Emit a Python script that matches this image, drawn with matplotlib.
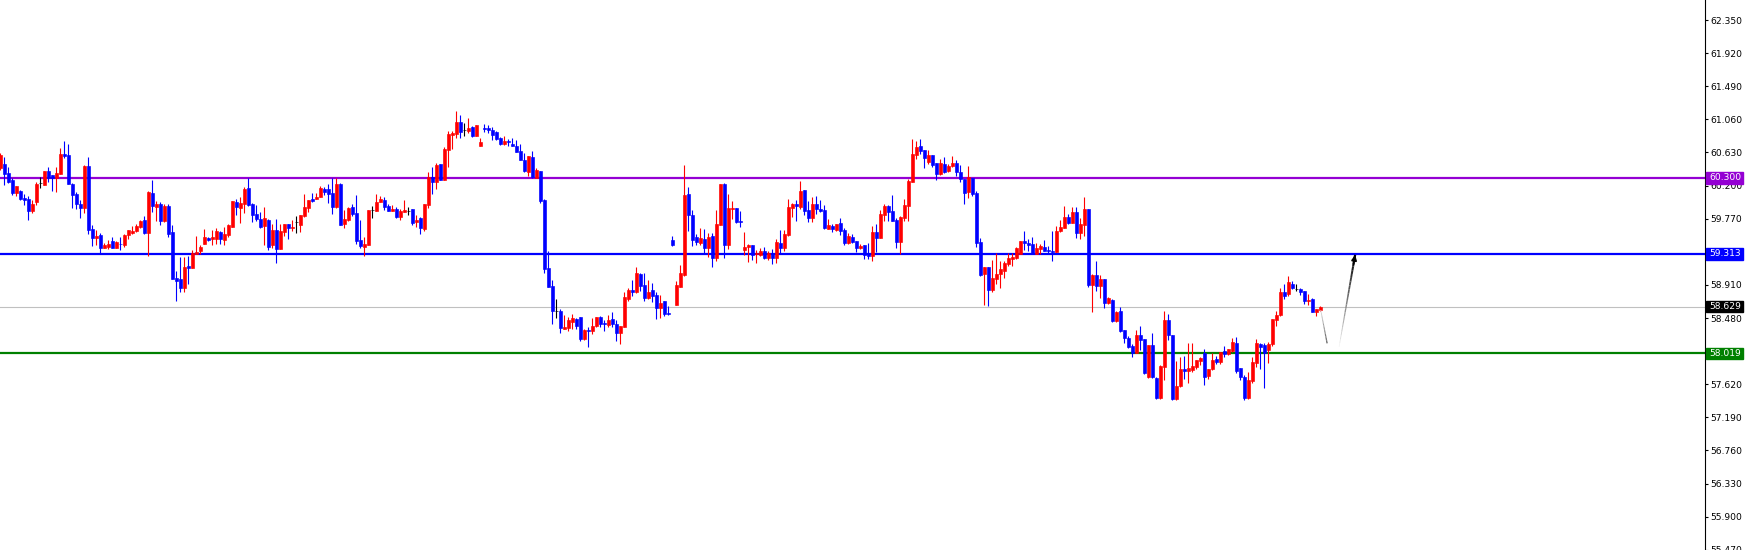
import numpy as np
import matplotlib
matplotlib.use('Agg')
import matplotlib.pyplot as plt
from matplotlib.collections import LineCollection
from matplotlib.patches import Rectangle

# OHLC, one value per bar (oldest first)
opens = [
    60.424, 60.480, 60.359, 60.272, 60.108, 60.125, 60.043, 60.025, 59.874, 59.987,
    60.229, 60.212, 60.389, 60.333, 60.294, 60.350, 60.610, 60.597, 60.220, 60.090,
    59.961, 59.913, 60.454, 59.632, 59.523, 59.558, 59.393, 59.402, 59.480, 59.393,
    59.445, 59.428, 59.558, 59.584, 59.614, 59.657, 59.753, 59.588, 60.108, 59.926,
    59.961, 59.740, 59.939, 59.597, 58.995, 58.987, 58.874, 59.155, 59.134, 59.316,
    59.350, 59.445, 59.519, 59.502, 59.510, 59.597, 59.493, 59.558, 59.666, 59.987,
    59.913, 59.965, 60.168, 59.961, 59.831, 59.770, 59.675, 59.753, 59.428, 59.623,
    59.380, 59.597, 59.701, 59.653, 59.727, 59.688, 59.805, 59.913, 60.030, 60.030,
    60.051, 60.155, 60.155, 60.108, 59.922, 60.220, 59.705, 59.753, 59.922, 59.844,
    59.493, 59.402, 59.428, 59.883, 59.874, 59.982, 60.012, 59.939, 59.874, 59.896,
    59.792, 59.861, 59.874, 59.896, 59.727, 59.783, 59.636, 59.947, 60.307, 60.251,
    60.480, 60.277, 60.666, 60.861, 60.874, 61.025, 60.926, 60.913, 60.965, 60.848,
    60.718, 60.948, 60.948, 60.926, 60.900, 60.822, 60.744, 60.779, 60.740, 60.714,
    60.649, 60.536, 60.380, 60.571, 60.298, 60.389, 60.017, 59.125, 58.891, 58.575,
    58.571, 58.341, 58.354, 58.432, 58.467, 58.489, 58.212, 58.324, 58.315, 58.376,
    58.497, 58.415, 58.385, 58.467, 58.402, 58.289, 58.367, 58.731, 58.844, 58.822,
    59.056, 58.908, 58.744, 58.844, 58.779, 58.614, 58.701, 58.545, 59.493, 58.649,
    58.887, 59.038, 60.090, 59.822, 59.532, 59.454, 59.506, 59.393, 59.545, 59.264,
    59.688, 60.220, 59.432, 59.900, 59.909, 59.740, 59.363, 59.406, 59.428, 59.307,
    59.294, 59.346, 59.264, 59.320, 59.264, 59.454, 59.393, 59.554, 59.913, 59.961,
    59.926, 60.142, 59.883, 59.783, 59.961, 59.896, 59.883, 59.640, 59.675, 59.623,
    59.714, 59.623, 59.458, 59.532, 59.480, 59.393, 59.428, 59.324, 59.290, 59.597,
    59.519, 59.822, 59.935, 59.870, 59.753, 59.471, 59.783, 59.935, 60.251, 60.601,
    60.714, 60.662, 60.510, 60.597, 60.493, 60.354, 60.480, 60.389, 60.450, 60.493,
    60.376, 60.281, 60.116, 60.302, 60.108, 59.471, 59.056, 59.142, 58.848, 58.991,
    59.056, 59.095, 59.186, 59.251, 59.264, 59.316, 59.480, 59.458, 59.441, 59.316,
    59.376, 59.402, 59.363, 59.350, 59.337, 59.614, 59.653, 59.792, 59.718, 59.857,
    59.588, 59.692, 59.896, 58.913, 59.043, 58.900, 58.987, 58.679, 58.718, 58.445,
    58.575, 58.328, 58.224, 58.121, 58.021, 58.259, 58.203, 57.718, 58.130, 57.705,
    57.437, 57.848, 58.454, 58.259, 57.424, 57.597, 57.822, 57.796, 57.805, 57.848,
    57.926, 58.021, 57.727, 57.813, 57.952, 57.909, 58.051, 58.013, 58.051, 58.160,
    57.826, 57.718, 57.437, 57.666, 57.900, 58.142, 58.130, 58.064, 58.138, 58.454,
    58.519, 58.822, 58.787, 58.917, 58.857, 58.861, 58.831, 58.701, 58.727, 58.562, 58.584,
]
highs = [
    60.618, 60.575, 60.437, 60.294, 60.190, 60.142, 60.090, 60.064, 60.012, 60.246,
    60.307, 60.389, 60.437, 60.333, 60.437, 60.683, 60.779, 60.740, 60.229, 60.116,
    60.012, 60.463, 60.571, 59.688, 59.623, 59.580, 59.450, 59.493, 59.536, 59.480,
    59.532, 59.571, 59.623, 59.675, 59.701, 59.753, 59.805, 60.134, 60.272, 59.995,
    59.987, 59.961, 59.961, 59.688, 59.090, 59.276, 59.276, 59.285, 59.363, 59.549,
    59.428, 59.636, 59.532, 59.623, 59.649, 59.610, 59.662, 59.701, 59.999, 60.025,
    60.051, 60.177, 60.298, 59.978, 59.947, 59.857, 59.922, 59.766, 59.701, 59.766,
    59.701, 59.701, 59.701, 59.753, 59.805, 59.818, 60.090, 60.012, 60.103, 60.103,
    60.194, 60.186, 60.220, 60.298, 60.298, 60.233, 59.883, 59.922, 59.961, 60.077,
    59.753, 59.532, 59.883, 59.935, 60.090, 60.064, 60.051, 59.965, 59.947, 59.922,
    59.896, 60.017, 59.922, 59.896, 59.818, 59.796, 59.961, 60.380, 60.445, 60.497,
    60.480, 60.701, 60.909, 60.913, 61.168, 61.116, 61.012, 61.077, 60.978, 60.991,
    60.818, 61.004, 60.982, 60.956, 60.913, 60.831, 60.844, 60.809, 60.822, 60.796,
    60.740, 60.623, 60.588, 60.649, 60.428, 60.389, 60.025, 59.350, 58.973, 58.727,
    58.597, 58.523, 58.497, 58.528, 58.476, 58.489, 58.341, 58.363, 58.480, 58.497,
    58.510, 58.458, 58.515, 58.562, 58.458, 58.376, 58.818, 58.870, 58.973, 59.142,
    59.069, 59.069, 58.973, 58.935, 58.818, 58.779, 58.701, 58.636, 59.549, 58.961,
    59.168, 60.467, 60.181, 59.883, 59.571, 59.653, 59.636, 59.588, 59.588, 59.883,
    60.220, 60.233, 60.090, 59.999, 59.909, 59.870, 59.597, 59.445, 59.428, 59.363,
    59.385, 59.406, 59.346, 59.376, 59.506, 59.623, 59.623, 60.025, 59.974, 60.012,
    60.259, 60.142, 59.999, 60.051, 60.064, 60.012, 59.947, 59.766, 59.701, 59.701,
    59.779, 59.649, 59.584, 59.571, 59.480, 59.445, 59.428, 59.454, 59.675, 59.701,
    59.883, 59.961, 59.947, 60.077, 59.779, 59.805, 60.025, 60.285, 60.805, 60.779,
    60.805, 60.662, 60.662, 60.597, 60.493, 60.545, 60.571, 60.480, 60.584, 60.532,
    60.467, 60.289, 60.454, 60.302, 60.134, 59.519, 59.142, 59.142, 59.233, 59.324,
    59.220, 59.225, 59.324, 59.324, 59.406, 59.480, 59.614, 59.510, 59.536, 59.454,
    59.445, 59.493, 59.419, 59.614, 59.675, 59.753, 59.935, 59.831, 59.926, 59.922,
    59.779, 60.051, 59.896, 59.056, 59.220, 59.038, 58.987, 58.757, 58.731, 58.575,
    58.627, 58.328, 58.251, 58.147, 58.328, 58.376, 58.212, 58.130, 58.281, 57.718,
    57.870, 58.571, 58.532, 58.259, 57.926, 57.978, 57.991, 58.151, 58.160, 57.939,
    57.978, 58.082, 57.822, 58.030, 57.991, 58.043, 58.116, 58.082, 58.225, 58.233,
    57.826, 57.740, 57.783, 57.978, 58.203, 58.160, 58.160, 58.164, 58.471, 58.575,
    58.870, 58.921, 59.026, 58.961, 58.921, 58.865, 58.831, 58.792, 58.735, 58.597, 58.636,
]
lows = [
    60.402, 60.207, 60.238, 60.077, 60.064, 60.012, 59.947, 59.753, 59.848, 59.947,
    60.173, 60.207, 60.251, 60.129, 60.121, 60.350, 60.554, 60.220, 59.913, 59.891,
    59.783, 59.848, 59.571, 59.415, 59.428, 59.320, 59.385, 59.376, 59.393, 59.385,
    59.363, 59.398, 59.506, 59.567, 59.601, 59.645, 59.571, 59.290, 59.861, 59.740,
    59.688, 59.731, 59.536, 58.991, 58.705, 58.822, 58.822, 58.921, 59.125, 59.311,
    59.311, 59.441, 59.484, 59.428, 59.441, 59.441, 59.428, 59.532, 59.666, 59.818,
    59.718, 59.848, 59.935, 59.731, 59.744, 59.653, 59.428, 59.363, 59.389, 59.199,
    59.380, 59.545, 59.506, 59.610, 59.584, 59.597, 59.796, 59.861, 59.991, 60.030,
    60.051, 60.077, 59.978, 59.831, 59.909, 59.688, 59.653, 59.744, 59.805, 59.441,
    59.389, 59.285, 59.428, 59.779, 59.874, 59.982, 59.887, 59.874, 59.874, 59.779,
    59.757, 59.861, 59.822, 59.692, 59.666, 59.575, 59.614, 59.913, 60.095, 60.155,
    60.277, 60.277, 60.445, 60.675, 60.822, 60.822, 60.848, 60.887, 60.831, 60.848,
    60.718, 60.900, 60.887, 60.792, 60.796, 60.731, 60.727, 60.709, 60.714, 60.636,
    60.528, 60.376, 60.328, 60.298, 60.294, 59.974, 59.069, 58.883, 58.406, 58.476,
    58.289, 58.341, 58.315, 58.341, 58.341, 58.186, 58.199, 58.108, 58.276, 58.363,
    58.367, 58.315, 58.367, 58.367, 58.186, 58.147, 58.367, 58.705, 58.770, 58.809,
    58.831, 58.705, 58.731, 58.692, 58.471, 58.484, 58.510, 58.523, 59.419, 58.649,
    58.878, 59.030, 59.614, 59.419, 59.432, 59.432, 59.316, 59.276, 59.147, 59.225,
    59.688, 59.264, 59.380, 59.766, 59.714, 59.666, 59.302, 59.212, 59.238, 59.199,
    59.285, 59.246, 59.233, 59.186, 59.199, 59.328, 59.354, 59.545, 59.796, 59.744,
    59.900, 59.822, 59.731, 59.731, 59.831, 59.857, 59.640, 59.636, 59.597, 59.614,
    59.558, 59.432, 59.445, 59.454, 59.337, 59.380, 59.246, 59.251, 59.220, 59.337,
    59.519, 59.744, 59.744, 59.740, 59.389, 59.316, 59.740, 59.740, 60.251, 60.541,
    60.614, 60.432, 60.484, 60.445, 60.277, 60.341, 60.363, 60.380, 60.437, 60.328,
    60.251, 59.965, 60.043, 60.069, 59.406, 59.030, 58.653, 58.640, 58.822, 58.921,
    58.874, 59.004, 59.160, 59.160, 59.246, 59.316, 59.367, 59.354, 59.316, 59.311,
    59.316, 59.350, 59.328, 59.225, 59.337, 59.601, 59.653, 59.705, 59.718, 59.523,
    59.510, 59.549, 58.887, 58.562, 58.835, 58.744, 58.614, 58.666, 58.432, 58.432,
    58.302, 58.160, 58.095, 57.978, 58.021, 58.064, 57.757, 57.705, 57.696, 57.424,
    57.424, 57.675, 58.194, 57.415, 57.415, 57.588, 57.683, 57.631, 57.783, 57.822,
    57.874, 57.610, 57.692, 57.800, 57.878, 57.883, 57.978, 57.999, 58.043, 57.770,
    57.675, 57.415, 57.424, 57.631, 57.848, 57.822, 57.575, 57.891, 58.116, 58.376,
    58.510, 58.731, 58.770, 58.861, 58.835, 58.783, 58.666, 58.653, 58.562, 58.506, 58.575,
]
closes = [
    60.597, 60.350, 60.251, 60.108, 60.190, 60.025, 60.012, 59.874, 59.961, 60.220,
    60.229, 60.389, 60.294, 60.294, 60.359, 60.610, 60.588, 60.220, 60.077, 59.961,
    59.913, 60.454, 59.623, 59.523, 59.549, 59.393, 59.424, 59.445, 59.393, 59.471,
    59.437, 59.558, 59.623, 59.614, 59.675, 59.744, 59.580, 60.121, 59.939, 59.961,
    59.740, 59.939, 59.571, 58.991, 58.965, 58.874, 59.142, 59.134, 59.320, 59.337,
    59.406, 59.532, 59.493, 59.532, 59.610, 59.510, 59.571, 59.688, 59.999, 59.926,
    59.974, 60.155, 59.947, 59.822, 59.770, 59.666, 59.783, 59.406, 59.623, 59.380,
    59.610, 59.701, 59.649, 59.662, 59.727, 59.818, 59.922, 60.012, 59.999, 60.056,
    60.168, 60.116, 60.095, 59.922, 60.220, 59.688, 59.766, 59.909, 59.831, 59.484,
    59.419, 59.441, 59.883, 59.883, 59.987, 60.025, 59.926, 59.874, 59.900, 59.792,
    59.870, 59.883, 59.874, 59.718, 59.753, 59.653, 59.961, 60.307, 60.246, 60.471,
    60.277, 60.675, 60.874, 60.887, 61.025, 60.900, 60.926, 60.952, 60.848, 60.991,
    60.766, 60.935, 60.926, 60.861, 60.809, 60.740, 60.779, 60.761, 60.718, 60.636,
    60.532, 60.385, 60.588, 60.307, 60.402, 60.004, 59.116, 58.883, 58.575, 58.575,
    58.354, 58.367, 58.454, 58.476, 58.380, 58.212, 58.328, 58.311, 58.376, 58.489,
    58.406, 58.406, 58.458, 58.398, 58.289, 58.376, 58.753, 58.844, 58.822, 59.064,
    58.900, 58.744, 58.818, 58.770, 58.614, 58.675, 58.536, 58.536, 59.432, 58.908,
    59.064, 60.077, 59.822, 59.493, 59.471, 59.519, 59.393, 59.536, 59.264, 59.701,
    60.220, 59.428, 59.909, 59.909, 59.722, 59.731, 59.402, 59.432, 59.298, 59.328,
    59.346, 59.264, 59.320, 59.264, 59.467, 59.393, 59.571, 59.922, 59.961, 59.939,
    60.129, 59.874, 59.783, 59.961, 59.896, 59.870, 59.653, 59.688, 59.640, 59.701,
    59.614, 59.458, 59.545, 59.467, 59.393, 59.419, 59.298, 59.285, 59.597, 59.519,
    59.831, 59.935, 59.861, 59.740, 59.471, 59.792, 59.947, 60.259, 60.610, 60.701,
    60.649, 60.562, 60.597, 60.467, 60.354, 60.493, 60.380, 60.454, 60.493, 60.372,
    60.281, 60.108, 60.307, 60.095, 59.458, 59.038, 59.142, 58.848, 59.000, 59.051,
    59.116, 59.194, 59.259, 59.272, 59.393, 59.480, 59.458, 59.432, 59.316, 59.389,
    59.415, 59.350, 59.350, 59.337, 59.614, 59.662, 59.792, 59.718, 59.857, 59.588,
    59.701, 59.896, 58.913, 59.043, 58.900, 58.987, 58.679, 58.744, 58.445, 58.562,
    58.315, 58.224, 58.108, 58.030, 58.264, 58.194, 57.770, 58.130, 57.709, 57.437,
    57.857, 58.454, 58.259, 57.424, 57.597, 57.813, 57.796, 57.831, 57.857, 57.934,
    57.965, 57.718, 57.813, 57.934, 57.909, 58.034, 58.013, 58.073, 58.173, 57.792,
    57.718, 57.437, 57.675, 57.913, 58.160, 58.108, 58.021, 58.138, 58.463, 58.519,
    58.822, 58.770, 58.943, 58.874, 58.857, 58.822, 58.701, 58.714, 58.562, 58.593, 58.629,
]

levels = [60.300, 59.313, 58.019]
level_colors = ['#9400D3', '#0000FF', '#008000']
last_price = 58.629

tick_values = [62.350, 61.920, 61.490, 61.060, 60.630, 60.200, 59.770,
               58.910, 58.480, 57.620, 57.190, 56.760, 56.330, 55.900, 55.470]

# hand drawn projection: a dip then an arrow up to the blue level
dip_line = [(330.1, 58.584), (331.7, 58.151)]
up_arrow = [(334.7, 58.107), (338.7, 59.300)]

W, H = 1746, 550
AX_W = 1705
fig = plt.figure(figsize=(W / 100, H / 100), dpi=100)
fig.patch.set_facecolor('white')
ax = fig.add_axes([0, 0, AX_W / W, 1])
ax.set_xlim(-0.08, 426.17)
ax.set_ylim(55.467, 62.610)

o = np.array(opens)
h = np.array(highs)
l = np.array(lows)
c = np.array(closes)
x = np.arange(len(o))
cols = np.where(c > o, '#FF0000', np.where(c < o, '#0000FF', '#000000'))

ax.axhline(last_price, color='#C0C0C0', lw=0.8, zorder=1)
for lv, col in zip(levels, level_colors):
    ax.axhline(lv, color=col, lw=1.6, zorder=1)

ax.vlines(x, l, h, colors=cols, lw=0.8, zorder=3)
ax.bar(x, c - o, bottom=o, width=0.62, color=cols, edgecolor=cols, lw=0.45, zorder=4)


def fade(p0, p1, g0, g1, w0, w1, n=24):
    xs = np.linspace(p0[0], p1[0], n + 1)
    ys = np.linspace(p0[1], p1[1], n + 1)
    segs = [[(xs[i], ys[i]), (xs[i + 1], ys[i + 1])] for i in range(n)]
    g = np.linspace(g0, g1, n)
    lc = LineCollection(segs, colors=[(v, v, v) for v in g],
                        linewidths=np.linspace(w0, w1, n), zorder=5)
    ax.add_collection(lc)


fade(dip_line[0], dip_line[1], 0.85, 0.35, 0.6, 0.9)
fade(up_arrow[0], up_arrow[1], 0.95, 0.0, 0.5, 1.6)
tip = up_arrow[1]
base = (up_arrow[0][0] + 0.9 * (tip[0] - up_arrow[0][0]),
        up_arrow[0][1] + 0.9 * (tip[1] - up_arrow[0][1]))
ax.annotate('', xy=tip, xytext=base,
            arrowprops=dict(arrowstyle='-|>', color='black', lw=1.4,
                            mutation_scale=7, shrinkA=0, shrinkB=0), zorder=6)

for s in ['top', 'left', 'bottom']:
    ax.spines[s].set_visible(False)
ax.spines['right'].set_color('black')
ax.spines['right'].set_linewidth(0.8)
ax.set_xticks([])
ax.yaxis.tick_right()
ax.set_yticks(tick_values)
ax.set_yticklabels([f'{v:.3f}' for v in tick_values])
ax.tick_params(axis='y', direction='out', length=2.2, width=0.8, pad=1.5,
               labelsize=6.6, colors='black')

trans = ax.get_yaxis_transform()
for val, col in zip(levels + [last_price], level_colors + ['#000000']):
    ax.add_patch(Rectangle((1706 / AX_W, val - 0.074), 37 / AX_W, 0.148,
                           transform=trans, facecolor=col, edgecolor=col,
                           clip_on=False, zorder=10))
    ax.text(1709 / AX_W, val, f'{val:.3f}', transform=trans, color='white',
            fontsize=6.6, ha='left', va='center', clip_on=False, zorder=11)

fig.savefig('out.png', dpi=100, facecolor='white')
